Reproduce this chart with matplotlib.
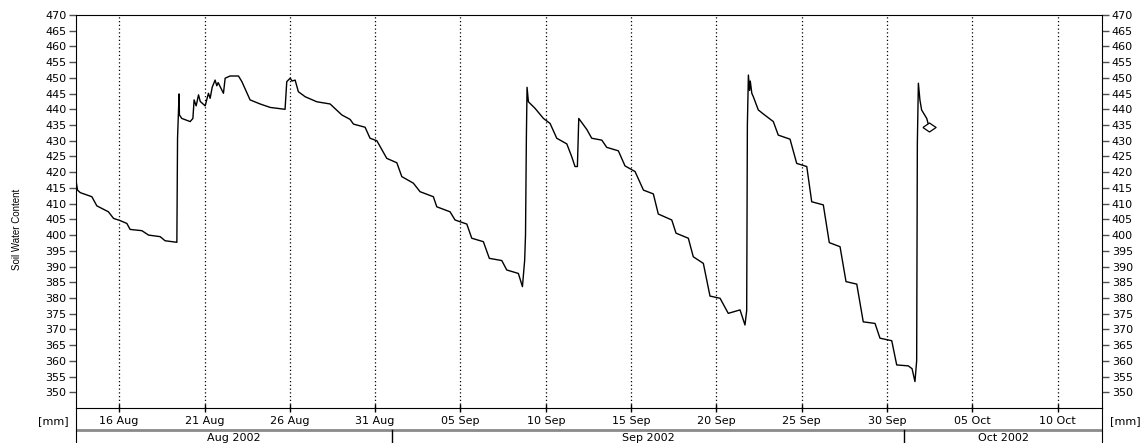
import numpy as np
import pandas as pd
import matplotlib
matplotlib.use('Agg')
import matplotlib.pyplot as plt
import matplotlib.dates as mdates

# soil water content [mm], time given as days after 2002-08-01 00:00
days = [12.48, 12.56, 12.72, 13.40, 13.69, 14.37, 14.67, 15.06, 15.45, 15.64,
        16.33, 16.72, 17.40, 17.69, 18.38, 18.42, 18.51, 18.53, 18.67, 19.16,
        19.32, 19.39, 19.51, 19.65, 19.75, 20.04, 20.23, 20.33, 20.45, 20.62,
        20.72, 20.80, 21.11, 21.21, 21.50, 21.99, 22.19, 22.67, 23.26, 23.85,
        24.72, 24.82, 25.02, 25.13, 25.31, 25.50, 25.90, 26.58, 27.36, 28.05,
        28.53, 28.73, 29.41, 29.70, 30.10, 30.68, 31.27, 31.56, 32.24, 32.63,
        33.41, 33.61, 34.39, 34.68, 35.37, 35.66, 36.34, 36.69, 37.42, 37.71,
        38.39, 38.63, 38.76, 38.81, 38.86, 38.90, 38.98, 39.37, 39.86, 40.25,
        40.64, 41.23, 41.52, 41.71, 41.85, 41.93, 42.40, 42.69, 43.28, 43.57,
        44.25, 44.64, 45.23, 45.72, 46.30, 46.59, 47.38, 47.63, 48.35, 48.64,
        49.23, 49.62, 50.21, 50.69, 51.38, 51.67, 51.77, 51.81, 51.87, 51.94,
        51.98, 52.07, 52.16, 52.45, 52.75, 53.33, 53.62, 54.31, 54.70, 55.29,
        55.58, 56.26, 56.61, 57.24, 57.59, 58.22, 58.60, 59.29, 59.58, 60.27,
        60.56, 61.24, 61.46, 61.63, 61.73, 61.77, 61.83, 61.92, 62.02, 62.32,
        62.45]
swc = [417.0, 414.3, 413.5, 412.2, 409.3, 407.4, 405.3, 404.6, 403.7, 401.8,
       401.4, 400.0, 399.5, 398.2, 397.7, 430.8, 444.9, 438.2, 437.1, 436.1,
       437.1, 443.0, 441.1, 444.6, 442.5, 441.1, 445.1, 443.5, 447.0, 449.3,
       447.5, 448.5, 445.1, 449.9, 450.6, 450.6, 448.8, 443.0, 441.7, 440.6,
       440.0, 448.8, 449.9, 449.0, 449.3, 445.6, 444.0, 442.4, 441.7, 438.2,
       436.8, 435.3, 434.3, 430.8, 430.0, 424.4, 423.0, 418.6, 416.5, 413.8,
       412.2, 409.0, 407.4, 404.8, 403.5, 399.0, 397.9, 392.6, 391.9, 388.9,
       387.8, 383.6, 392.0, 400.0, 430.8, 447.0, 442.4, 440.3, 437.1, 435.5,
       430.8, 429.0, 424.9, 421.8, 421.8, 437.1, 433.6, 430.8, 430.2, 427.9,
       426.8, 422.0, 420.2, 414.3, 413.1, 406.7, 404.8, 400.6, 399.0, 393.1,
       391.0, 380.6, 379.9, 375.1, 376.2, 371.4, 376.0, 435.0, 450.9, 446.0,
       449.0, 445.1, 444.0, 439.8, 438.5, 436.1, 431.8, 430.5, 422.8, 421.8,
       410.6, 409.6, 397.6, 396.3, 385.2, 384.4, 372.4, 371.9, 367.2, 366.4,
       358.7, 358.4, 357.5, 353.4, 360.0, 429.2, 448.3, 443.0, 439.8, 437.1,
       434.5]

start = pd.Timestamp('2002-08-01')
times = start + pd.to_timedelta(days, unit='D')
tick_dates = pd.date_range('2002-08-16', '2002-10-10', freq='5D')
month_names = ['Aug 2002', 'Sep 2002', 'Oct 2002']
month_starts = pd.to_datetime(['2002-09-01', '2002-10-01'])
x_from = start + pd.Timedelta(days=12.47)
x_to = start + pd.Timedelta(days=72.59)

W, H = 1143, 443
fig = plt.figure(figsize=(W / 100, H / 100), dpi=100)
# pixel positions of the plot frame
px_left, px_right, px_top, px_bottom = 76, 1102, 15, 408
left = px_left / W
width = (px_right - px_left) / W
ax_bottom = 1 - px_bottom / H
ax_height = (px_bottom - px_top) / H

# lower strip with the month names
sax = fig.add_axes([left, 0, width, ax_bottom])
sax.set_xlim(x_from, x_to)
sax.set_ylim(0, 1)
sax.patch.set_visible(False)
sax.set_xticks([])
sax.set_yticks([])
sax.spines['top'].set_visible(False)
sax.spines['bottom'].set_visible(False)
gline = 13 / 35
sax.axhline(gline, color='#8a8a8a', lw=2)
for b in month_starts:
    sax.plot([b, b], [0, gline], color='black', lw=1)
edges = [mdates.date2num(x_from)] + list(mdates.date2num(month_starts)) + [mdates.date2num(x_to)]
for i, name in enumerate(month_names):
    sax.text((edges[i] + edges[i + 1]) / 2, 0.14, name, ha='center', va='center', fontsize=8)

ax = fig.add_axes([left, ax_bottom, width, ax_height])
ax.plot(times, swc, color='black', lw=1.0)
diamond = [(-1, 0), (0, 0.68), (1, 0), (0, -0.68), (-1, 0)]
ax.plot(times[-1:], swc[-1:], ls='none', marker=diamond, ms=9.5,
        mfc='white', mec='black', mew=0.9)

ax.set_xlim(x_from, x_to)
ax.set_ylim(345, 470)
ax.set_yticks(np.arange(350, 471, 5))
ax.set_xticks(tick_dates)
ax.xaxis.set_major_formatter(mdates.DateFormatter('%d %b'))
ax.grid(axis='x', color='black', linestyle=(0, (1, 2)), lw=0.9)
ax.tick_params(axis='x', direction='inout', length=6, width=1, pad=3, labelsize=8)
ax.tick_params(axis='y', direction='out', length=5, width=1, color='#505050', pad=2,
               labelsize=8, left=True, right=True, labelleft=True, labelright=True)

fig.text(17 / W, 1 - 229 / H, 'Soil Water Content', rotation=90, ha='center', va='center',
         fontsize=7, family='Liberation Sans')
fig.text(53 / W, 1 - 421 / H, '[mm]', ha='center', va='center', fontsize=8)
fig.text(1125 / W, 1 - 421 / H, '[mm]', ha='center', va='center', fontsize=8)

plt.savefig('out.png', dpi=100)
